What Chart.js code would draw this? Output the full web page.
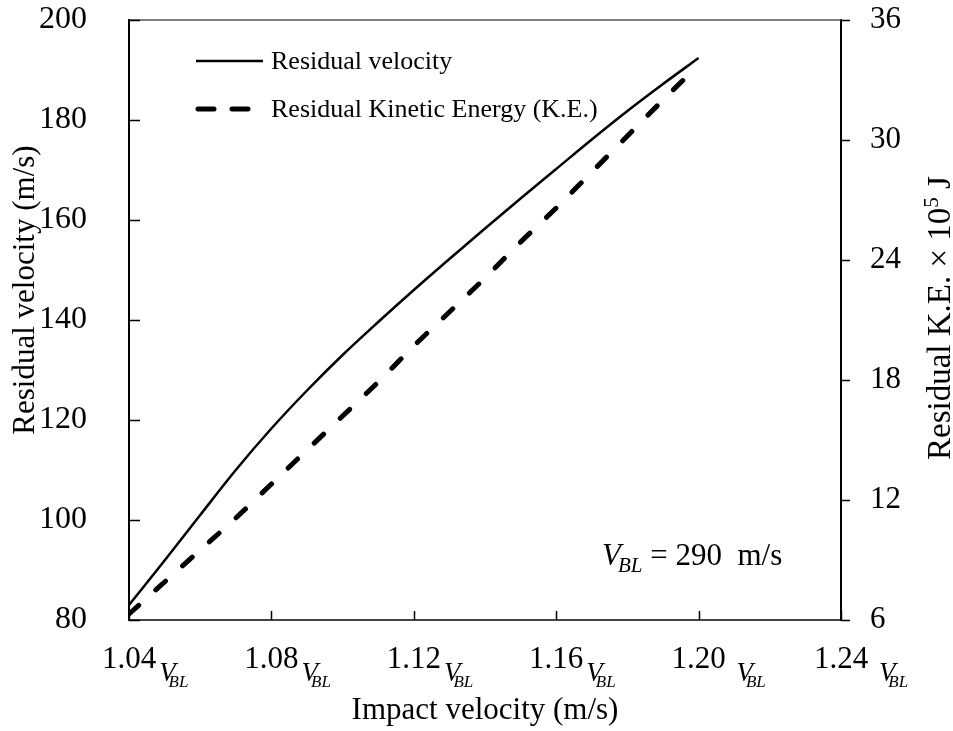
<!DOCTYPE html>
<html>
<head>
<meta charset="utf-8">
<script src="https://cdn.jsdelivr.net/npm/chart.js@4/dist/chart.umd.min.js"></script>
<style>
    html, body { margin: 0; padding: 0; background: #fff; }
    #wrap { width: 953px; height: 731px; position: relative; }
</style>
</head>
<body>
<div id="wrap"><canvas id="chart"></canvas></div>
<script>
// --- Data ---
const impactX = [1.04, 1.05, 1.06, 1.07, 1.08, 1.09, 1.10, 1.11, 1.12, 1.13, 1.14, 1.15, 1.16, 1.17, 1.18, 1.19, 1.20];
const residualV = [83.0, 91.9, 101.0, 110.0, 118.3, 125.9, 133.0, 139.6, 146.0, 152.2, 158.3, 164.3, 170.2, 176.1, 181.8, 187.2, 192.4];
const residualKE = [6.3, 7.9, 9.5, 11.1, 12.8, 14.5, 16.2, 17.9, 19.7, 21.4, 23.1, 24.9, 26.6, 28.4, 30.2, 32.0, 33.75];

const xTicks = [1.04, 1.08, 1.12, 1.16, 1.20, 1.24];
const xTickLabels = ['1.04', '1.08', '1.12', '1.16', '1.20 ', '1.24 '];
const seriesNames = ['Residual velocity', 'Residual Kinetic Energy (K.E.)'];
const axisTitles = ['Impact velocity (m/s)', 'Residual velocity (m/s)', 'Residual K.E. \u00d7 10', '5', ' J'];
const noteText = ['V', 'BL', ' = 290  m/s'];

const SERIF = "'Liberation Serif', 'Times New Roman', serif";
const INK = '#000';
const CLEAR = 'rgba(0,0,0,0)';

// --- Custom drawing: inward ticks, subscripted x labels, titles, legend, note ---
const decor = {
    id: 'decor',
    afterDraw(chart) {
        const { ctx, chartArea: a, scales } = chart;
        const x = scales.x, y = scales.y, y1 = scales.y1;
        ctx.save();

        // top frame line
        ctx.strokeStyle = '#555';
        ctx.lineWidth = 1.5;
        ctx.beginPath();
        ctx.moveTo(a.left, a.top);
        ctx.lineTo(a.right, a.top);
        ctx.stroke();

        // inward ticks on left and bottom, outward on right
        ctx.strokeStyle = INK;
        ctx.lineWidth = 1.5;
        ctx.beginPath();
        for (const t of y.ticks) {
            const py = Math.round(y.getPixelForValue(t.value)) + 0.5;
            ctx.moveTo(a.left, py);
            ctx.lineTo(a.left + 11, py);
        }
        for (const t of y1.ticks) {
            const py = Math.round(y1.getPixelForValue(t.value)) + 0.5;
            ctx.moveTo(a.right, py);
            ctx.lineTo(a.right + 9, py);
        }
        for (const v of xTicks) {
            const px = Math.round(x.getPixelForValue(v)) + 0.5;
            ctx.moveTo(px, a.bottom);
            ctx.lineTo(px, a.bottom - 9);
        }
        ctx.stroke();

        // x tick labels: number + italic V with subscript BL
        ctx.fillStyle = INK;
        ctx.textBaseline = 'alphabetic';
        ctx.textAlign = 'left';
        xTicks.forEach((v, i) => {
            const px = x.getPixelForValue(v);
            const base = a.bottom + 48;
            ctx.font = `31px ${SERIF}`;
            const num = xTickLabels[i].trimEnd();
            const w = ctx.measureText(num).width;
            ctx.fillText(num, px - w / 2, base);
            const gap = ctx.measureText(xTickLabels[i]).width - w + 3;
            let cx = px + w / 2 + gap;
            ctx.font = `italic 27px ${SERIF}`;
            ctx.fillText('V', cx, base + 13);
            cx += ctx.measureText('V').width - 7;
            ctx.font = `italic 17px ${SERIF}`;
            ctx.fillText('BL', cx, base + 19);
        });

        // left axis title
        ctx.save();
        ctx.translate(34, 290);
        ctx.rotate(-Math.PI / 2);
        ctx.font = `31px ${SERIF}`;
        ctx.textAlign = 'center';
        ctx.fillText(axisTitles[1], 0, 0);
        ctx.restore();

        // right axis title, reading bottom to top, with superscript 5
        ctx.save();
        ctx.translate(950, 318);
        ctx.rotate(-Math.PI / 2);
        ctx.textAlign = 'left';
        ctx.font = `33px ${SERIF}`;
        const w1 = ctx.measureText(axisTitles[2]).width, w3 = ctx.measureText(axisTitles[4]).width;
        ctx.font = `21px ${SERIF}`;
        const w2 = ctx.measureText(axisTitles[3]).width;
        let sx = -(w1 + w2 + w3) / 2;
        ctx.font = `33px ${SERIF}`;
        ctx.fillText(axisTitles[2], sx, 0);
        sx += w1;
        ctx.font = `21px ${SERIF}`;
        ctx.fillText(axisTitles[3], sx, -12);
        sx += w2;
        ctx.font = `33px ${SERIF}`;
        ctx.fillText(axisTitles[4], sx, 0);
        ctx.restore();

        // legend
        ctx.lineCap = 'butt';
        ctx.strokeStyle = INK;
        ctx.lineWidth = 2.5;
        ctx.beginPath();
        ctx.moveTo(196, 61);
        ctx.lineTo(263, 61);
        ctx.stroke();
        ctx.lineWidth = 5;
        ctx.lineCap = 'round';
        ctx.setLineDash([16, 18]);
        ctx.beginPath();
        ctx.moveTo(198, 109);
        ctx.lineTo(263, 109);
        ctx.stroke();
        ctx.setLineDash([]);
        ctx.font = `26px ${SERIF}`;
        ctx.textAlign = 'left';
        ctx.textBaseline = 'middle';
        ctx.fillText(seriesNames[0], 271, 62);
        ctx.fillText(seriesNames[1], 271, 110);

        // V_BL = 290 m/s note
        ctx.textBaseline = 'alphabetic';
        let nx = 602;
        const nb = 565;
        ctx.font = `italic 31px ${SERIF}`;
        ctx.fillText(noteText[0], nx, nb);
        nx += ctx.measureText(noteText[0]).width - 3;
        ctx.font = `italic 21px ${SERIF}`;
        ctx.fillText(noteText[1], nx, nb + 7);
        nx += ctx.measureText(noteText[1]).width;
        ctx.font = `31px ${SERIF}`;
        ctx.fillText(noteText[2], nx, nb);

        ctx.restore();
    }
};

const pts = (ys) => impactX.map((v, i) => ({ x: v, y: ys[i] }));

new Chart(document.getElementById('chart'), {
    type: 'line',
    data: {
        datasets: [
            {
                label: seriesNames[0],
                data: pts(residualV),
                yAxisID: 'y',
                borderColor: INK,
                borderWidth: 2.5,
                pointRadius: 0,
                cubicInterpolationMode: 'monotone',
                fill: false,
            },
            {
                label: seriesNames[1],
                data: pts(residualKE),
                yAxisID: 'y1',
                borderColor: INK,
                borderWidth: 5,
                borderDash: [13, 23],
                borderCapStyle: 'round',
                pointRadius: 0,
                cubicInterpolationMode: 'monotone',
                fill: false,
            },
        ],
    },
    options: {
        responsive: true,
        maintainAspectRatio: false,
        animation: false,
        layout: { padding: { top: 20, left: 0, right: 0, bottom: 0 } },
        plugins: {
            legend: { display: false },
            tooltip: { enabled: false },
        },
        scales: {
            x: {
                type: 'linear',
                min: 1.04,
                max: 1.24,
                afterFit: s => { s.height = 111; },
                afterBuildTicks: s => { s.ticks = xTicks.map(v => ({ value: v })); },
                grid: { display: false },
                border: { display: true, color: '#444', width: 2 },
                ticks: { display: false },
                title: {
                    display: true,
                    text: axisTitles[0],
                    color: INK,
                    font: { family: SERIF, size: 31 },
                    padding: { top: 0, bottom: 2 },
                },
            },
            y: {
                position: 'left',
                min: 80,
                max: 200,
                afterFit: s => { s.width = 129; },
                grid: { display: true, drawOnChartArea: false, drawTicks: true, tickLength: 42, color: CLEAR },
                border: { display: true, color: INK, width: 2 },
                ticks: {
                    stepSize: 20,
                    color: INK,
                    padding: 0,
                    font: { family: SERIF, size: 32 },
                },
            },
            y1: {
                position: 'right',
                min: 6,
                max: 36,
                afterFit: s => { s.width = 112; },
                grid: { display: true, drawOnChartArea: false, drawTicks: true, tickLength: 29, color: CLEAR },
                border: { display: true, color: INK, width: 2 },
                ticks: {
                    stepSize: 6,
                    color: INK,
                    padding: 0,
                    font: { family: SERIF, size: 31 },
                },
            },
        },
    },
    plugins: [decor],
});
</script>
</body>
</html>
